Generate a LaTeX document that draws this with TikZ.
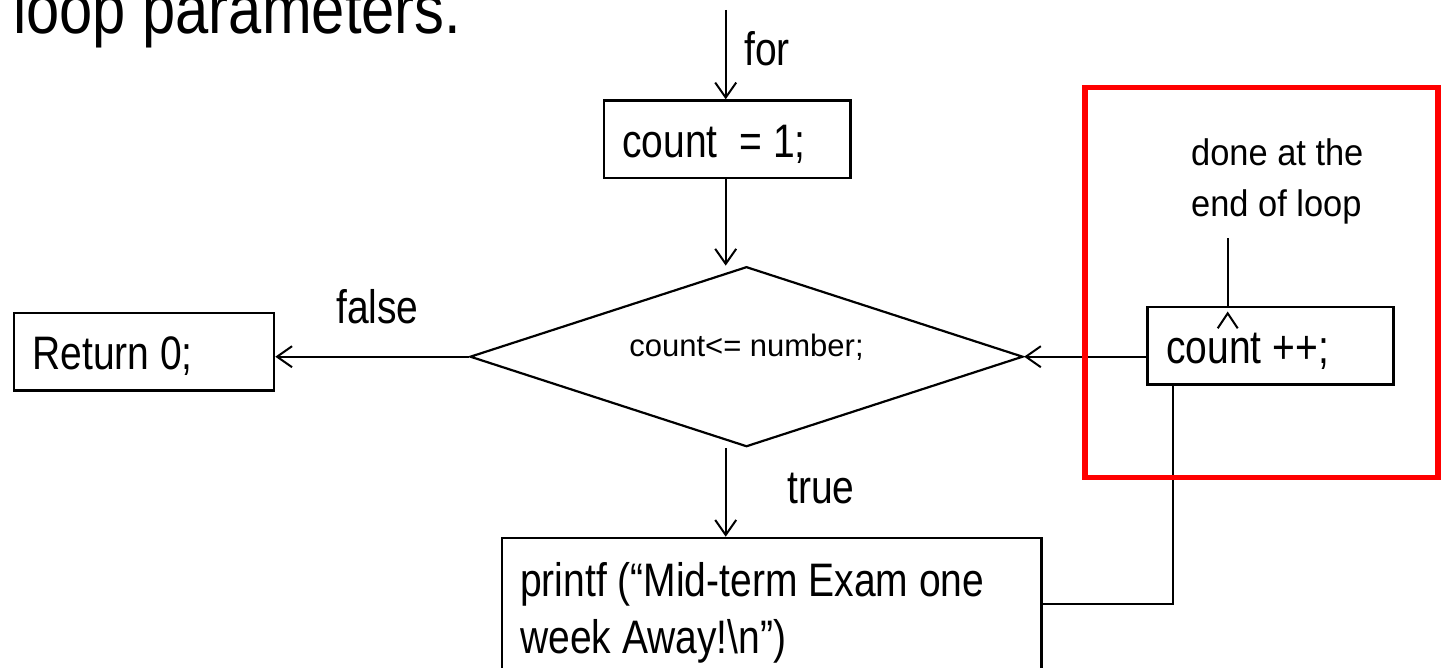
\documentclass[tikz,border=0pt]{standalone}
\usepackage{fontspec}
\setmainfont{Liberation Sans}
\newfontfamily\narrowfont{Liberation Sans}[FakeStretch=0.83]
\newfontfamily\headfont{Liberation Sans}[FakeStretch=0.853]
\newfontfamily\notefont{Liberation Sans}[FakeStretch=0.93]
\usetikzlibrary{arrows.meta,shapes.geometric}

\tikzset{
  bigtext/.style={font=\narrowfont\fontsize{47}{56.7}\selectfont},
  smalltext/.style={font=\fontsize{31}{38}\selectfont},
  notetext/.style={font=\notefont\fontsize{37}{50.7}\selectfont},
  stmt/.style={draw, line width=2.6pt, inner ysep=0pt, inner xsep=18.3pt,
    anchor=north west, bigtext},
  arr/.style={-{Straight Barb[length=15pt,width=21pt]}, line width=2pt},
  link/.style={line width=2.2pt},
}

\begin{document}
\begin{tikzpicture}[x=1pt,y=-1pt]
\useasboundingbox (0,0) rectangle (1442,668);

% heading, cut at the top edge
\node[anchor=base west, inner sep=0pt,
      font=\headfont\fontsize{70}{80}\selectfont] (title) at (13,34) {loop parameters.};

% statement boxes
\node[stmt, text height=57.4pt, text depth=20pt] (init) at (602.7,99.3)
  {\makebox[209.7pt][l]{count\ \ = 1;}};
\node[stmt, text height=56.3pt, text depth=21pt] (ret) at (12.7,311.7)
  {\makebox[223.4pt][l]{Return 0;}};
\node[stmt, inner xsep=19pt, text height=56pt, text depth=21.6pt] (inc) at (1146,305.7)
  {\makebox[208.3pt][l]{count ++;}};
\node[stmt, text height=58.3pt, text depth=120pt] (prt) at (500.7,536.7)
  {\vtop{\hbox to 502.7pt{printf (“Mid-term Exam one\hfil}%
         \hbox to 502.7pt{week Away!\textbackslash n”)\hfil}}};

% loop test
\node[diamond, draw, line width=2.2pt, inner sep=0pt, aspect=3.07,
      minimum width=553pt, minimum height=180pt,
      text height=11pt, text depth=11pt, smalltext] (test) at (746.5,356.7)
  {count<= number;};

% note on the increment
\node[notetext, align=left, anchor=north west, inner sep=0pt] (note) at (1191,138.3)
  {done at the\\end of loop};

% helper points
\coordinate (entry) at (725.7,10);
\coordinate (tick) at (1227.7,238.3);
\coordinate (back) at (1172.7,604);

% connectors
\draw[arr] (entry) -- (entry |- init.north);
\draw[arr] (init.south -| entry) -- (entry |- test.north);
\draw[arr] (test.south -| entry) -- (entry |- prt.north);
\draw[arr] (test.west) -- (test.west -| ret.east);
\draw[arr] (inc.west |- test.east) -- (test.east);
\draw[link] (inc.south -| back) |- (prt.east |- back);
\draw[link] (tick) -- (tick |- inc.north);
\draw[line width=2pt]
  ([xshift=-10pt,yshift=-22.6pt]tick |- inc.north) --
  ([yshift=-7.6pt]tick |- inc.north) --
  ([xshift=10pt,yshift=-22.6pt]tick |- inc.north);

% edge labels
\node[anchor=base west, inner sep=0pt, bigtext] (lfor) at (744,66) {for};
\node[anchor=base west, inner sep=0pt, bigtext] (lfalse) at (336,323) {false};
\node[anchor=base west, inner sep=0pt, bigtext] (ltrue) at (787,503) {true};

% highlight frame around the increment step
\draw[red, line width=5.5pt] (1085,87.3) rectangle (1438,477.3);
\end{tikzpicture}
\end{document}
